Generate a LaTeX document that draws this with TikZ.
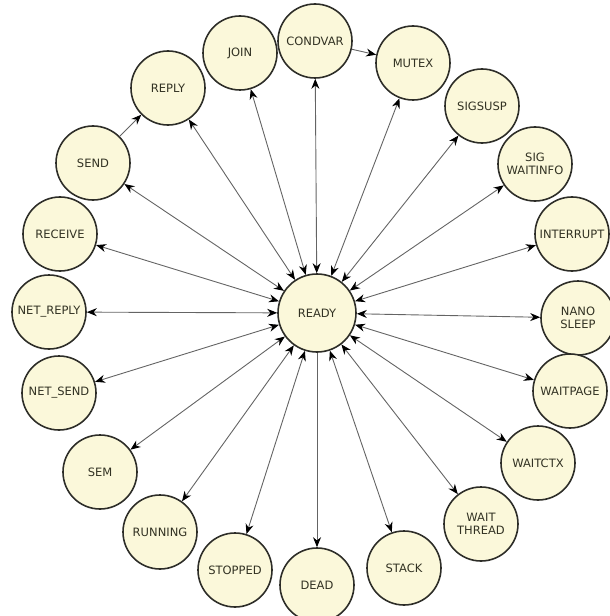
\documentclass[tikz,border=0pt]{standalone}
\usepackage{fontspec}
\setmainfont{DejaVu Sans}
\usetikzlibrary{arrows.meta}
\definecolor{statefill}{RGB}{251,248,218}
\definecolor{stateline}{RGB}{45,45,40}
\definecolor{statetext}{RGB}{50,50,35}
\definecolor{edgeline}{RGB}{100,100,100}
\begin{document}
\begin{tikzpicture}[x=1bp,y=-1bp,
  state/.style={circle,draw=stateline,line width=1.6bp,fill=statefill,
    minimum size=74bp,inner sep=0pt,align=center,text=statetext,
    font=\fontsize{11.5bp}{13.5bp}\selectfont},
  hub/.style={state,minimum size=78bp},
  tip/.style={Stealth[length=10bp,width=8bp,color=black]},
  link/.style={draw=edgeline,line width=0.9bp,{Stealth[length=10bp,width=8bp,color=black]}-{Stealth[length=10bp,width=8bp,color=black]}},
  oneway/.style={draw=edgeline,line width=0.9bp,-{Stealth[length=10bp,width=8bp,color=black]}}]
\useasboundingbox (0,0) rectangle (610,616);
% hub
\node[hub] (ready) at (317,313) {READY};
% surrounding states
\node[state] (condvar) at (315,41) {CONDVAR};
\node[state] (join) at (240,53) {JOIN};
\node[state] (mutex) at (413,63) {MUTEX};
\node[state] (reply) at (168,88) {REPLY};
\node[state] (sigsusp) at (482,106) {SIGSUSP};
\node[state] (send) at (93,163) {SEND};
\node[state] (sigwaitinfo) at (535,164) {SIG\\WAITINFO};
\node[state] (receive) at (60,234) {RECEIVE};
\node[state] (interrupt) at (572,234) {INTERRUPT};
\node[state] (netreply) at (49,312) {NET\_REPLY};
\node[state] (nanosleep) at (578,318) {NANO\\SLEEP};
\node[state] (netsend) at (59,393) {NET\_SEND};
\node[state] (waitpage) at (570,391) {WAITPAGE};
\node[state] (sem) at (100,472) {SEM};
\node[state] (waitctx) at (538,463) {WAITCTX};
\node[state] (running) at (160,532) {RUNNING};
\node[state] (waitthread) at (481,524) {WAIT\\THREAD};
\node[state] (stopped) at (235,570) {STOPPED};
\node[state] (dead) at (317,585) {DEAD};
\node[state] (stack) at (404,568) {STACK};
% transitions to and from READY
\foreach \s in {condvar,join,mutex,reply,sigsusp,send,sigwaitinfo,receive,
  interrupt,netreply,nanosleep,netsend,waitpage,sem,waitctx,running,
  waitthread,stopped,stack}
  \draw[link] (ready) -- (\s);
\draw[oneway] (ready) -- (dead);
% direct transitions between outer states
\draw[oneway] (send) -- (reply);
\draw[oneway] (condvar) -- (mutex);
\end{tikzpicture}
\end{document}
